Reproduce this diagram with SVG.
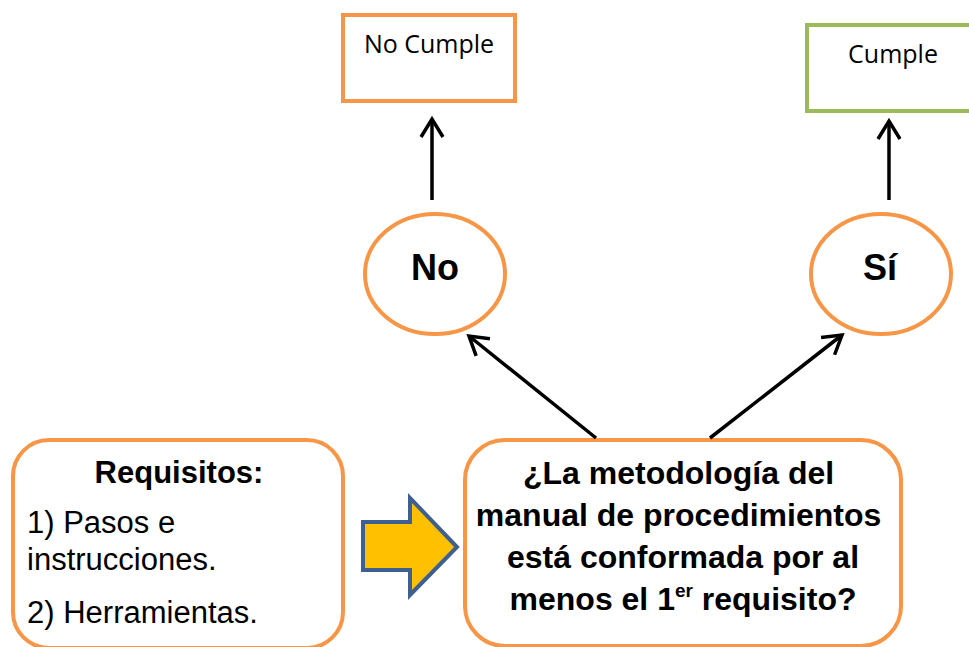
<svg xmlns="http://www.w3.org/2000/svg" width="969" height="647" viewBox="0 0 969 647">
<style>
.box{fill:#fff;stroke:#F79646;stroke-width:4}
.boxg{fill:#fff;stroke:#9BBB59;stroke-width:4}
.cal{font-family:"Open Sans","Liberation Sans",sans-serif;font-size:25px;fill:#000}
.b{font-family:"Liberation Sans",Arial,sans-serif;font-weight:bold;fill:#000}
.r{font-family:"Liberation Sans",Arial,sans-serif;fill:#000}
.con{stroke:#000;stroke-width:3.5;fill:none}
</style>
<defs>
<marker id="ah" markerUnits="userSpaceOnUse" markerWidth="30" markerHeight="30" viewBox="-25 -15 30 30" refX="0" refY="0" orient="auto">
<path d="M-18,-11 L0,0 L-18,11" fill="none" stroke="#000" stroke-width="3.5"/>
</marker>
</defs>
<rect width="969" height="647" fill="#fff"/>
<g id="no-cumple">
<rect class="box" x="343" y="15" width="172" height="86"/>
<text class="cal" x="429" y="53" text-anchor="middle">No Cumple</text>
</g>
<g id="cumple">
<rect class="boxg" x="807" y="25" width="200" height="86"/>
<text class="cal" x="893" y="63" text-anchor="middle">Cumple</text>
</g>
<g id="no">
<ellipse class="box" cx="435" cy="274" rx="70" ry="60"/>
<text class="b" x="435" y="280" font-size="36" text-anchor="middle">No</text>
</g>
<g id="si">
<ellipse class="box" cx="881" cy="274" rx="70" ry="60"/>
<text class="b" x="880" y="280" font-size="36" text-anchor="middle">Sí</text>
</g>
<g id="requisitos">
<rect class="box" x="13" y="440" width="330" height="208" rx="36"/>
<text class="b" x="179" y="483" font-size="31" text-anchor="middle">Requisitos:</text>
<text class="r" x="27" y="533" font-size="31">1) Pasos e</text>
<text class="r" x="27" y="570" font-size="31">instrucciones.</text>
<text class="r" x="27" y="623" font-size="31">2) Herramientas.</text>
</g>
<g id="pregunta">
<rect class="box" x="465" y="440" width="436" height="206" rx="40"/>
<text class="b" font-size="32" text-anchor="middle">
<tspan x="683" y="484">¿La metodología del</tspan>
<tspan x="683" y="526">manual de procedimientos</tspan>
<tspan x="683" y="568">está conformada por al</tspan>
</text>
<text class="b" font-size="32" x="683" y="610" text-anchor="middle">menos el 1<tspan font-size="19" dy="-13">er</tspan><tspan dy="13"> requisito?</tspan></text>
</g>
<g id="flecha-amarilla">
<polygon points="363,522 410,522 410,498 457,547 410,595 410,570 363,570" fill="#FFC000" stroke="#3E6090" stroke-width="4" stroke-linejoin="miter"/>
</g>
<g id="connectors">
<line class="con" x1="432" y1="200" x2="432" y2="119" marker-end="url(#ah)"/>
<line class="con" x1="889" y1="200" x2="889" y2="121" marker-end="url(#ah)"/>
<line class="con" x1="596" y1="438" x2="469" y2="336" marker-end="url(#ah)"/>
<line class="con" x1="710" y1="438" x2="842" y2="335" marker-end="url(#ah)"/>
</g>
</svg>
